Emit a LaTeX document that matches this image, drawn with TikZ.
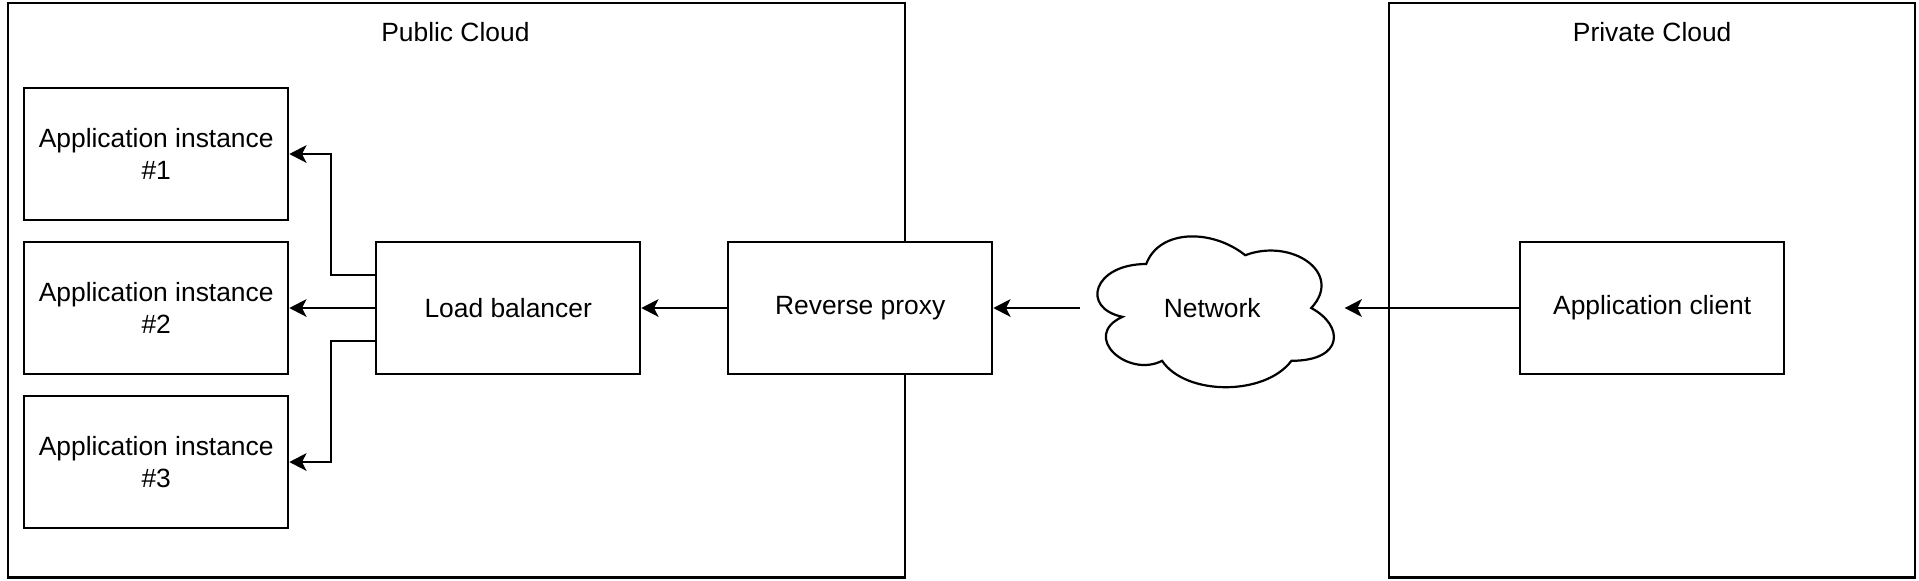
\documentclass[tikz,border=0pt]{standalone}
\usepackage{fontspec}
\setmainfont{Liberation Sans}
\usetikzlibrary{arrows.meta}

\tikzset{
	box/.style={draw, fill=white, line width=1pt, minimum width=120pt, minimum height=60pt, align=center, inner sep=0pt},
	region/.style={draw, line width=1pt, anchor=north west, inner sep=0pt, minimum height=261pt},
	link/.style={line width=1pt, -{Stealth[length=7.8pt, width=8pt, inset=2pt]}},
}

\begin{document}
\begin{tikzpicture}[x=1pt, y=-1pt, font=\fontsize{12}{14.5}\selectfont]
	\useasboundingbox (0,0) rectangle (872.27,263.64);

	%regions
	\node[region, minimum width=408pt] (public) at (3,1) {};
	\node[region, minimum width=239pt] (private) at (631,1) {};
	\node (publictitle) at (207,14.5) {Public Cloud};
	\node (privatetitle) at (751,14.5) {Private Cloud};

	%boxes
	\node[box] (app1) at (71,70) {Application instance\\\#1};
	\node[box] (app2) at (71,140) {Application instance\\\#2};
	\node[box] (app3) at (71,210) {Application instance\\\#3};
	\node[box] (lb) at (231,140) {Load balancer};
	\node[box] (proxy) at (391,140) {Reverse proxy};
	\node[box] (client) at (751,140) {Application client};

	%network
	\node[minimum width=120pt, minimum height=80pt] (network) at (551,140) {Network};
	\begin{scope}[shift={(491pt,-100pt)}, x=1.2pt, y=-0.8pt]
		\draw[line width=1pt] (25,25) .. controls (5,25) and (0,50) .. (16,55)
			.. controls (0,66) and (18,90) .. (31,80)
			.. controls (40,100) and (70,100) .. (80,80)
			.. controls (100,80) and (100,60) .. (87.5,50)
			.. controls (100,30) and (80,10) .. (62.5,20)
			.. controls (50,5) and (30,5) .. (25,25) -- cycle;
	\end{scope}

	%links
	\draw[link] ([yshift=15pt]lb.west) -- ++(-20,0) |- (app1.east);
	\draw[link] (lb.west) -- (app2.east);
	\draw[link] ([yshift=-15pt]lb.west) -- ++(-20,0) |- (app3.east);
	\draw[link] (proxy.west) -- (lb.east);
	\draw[link] (network.west) -- (proxy.east);
	\draw[link] (client.west) -- (network.east);
\end{tikzpicture}
\end{document}
